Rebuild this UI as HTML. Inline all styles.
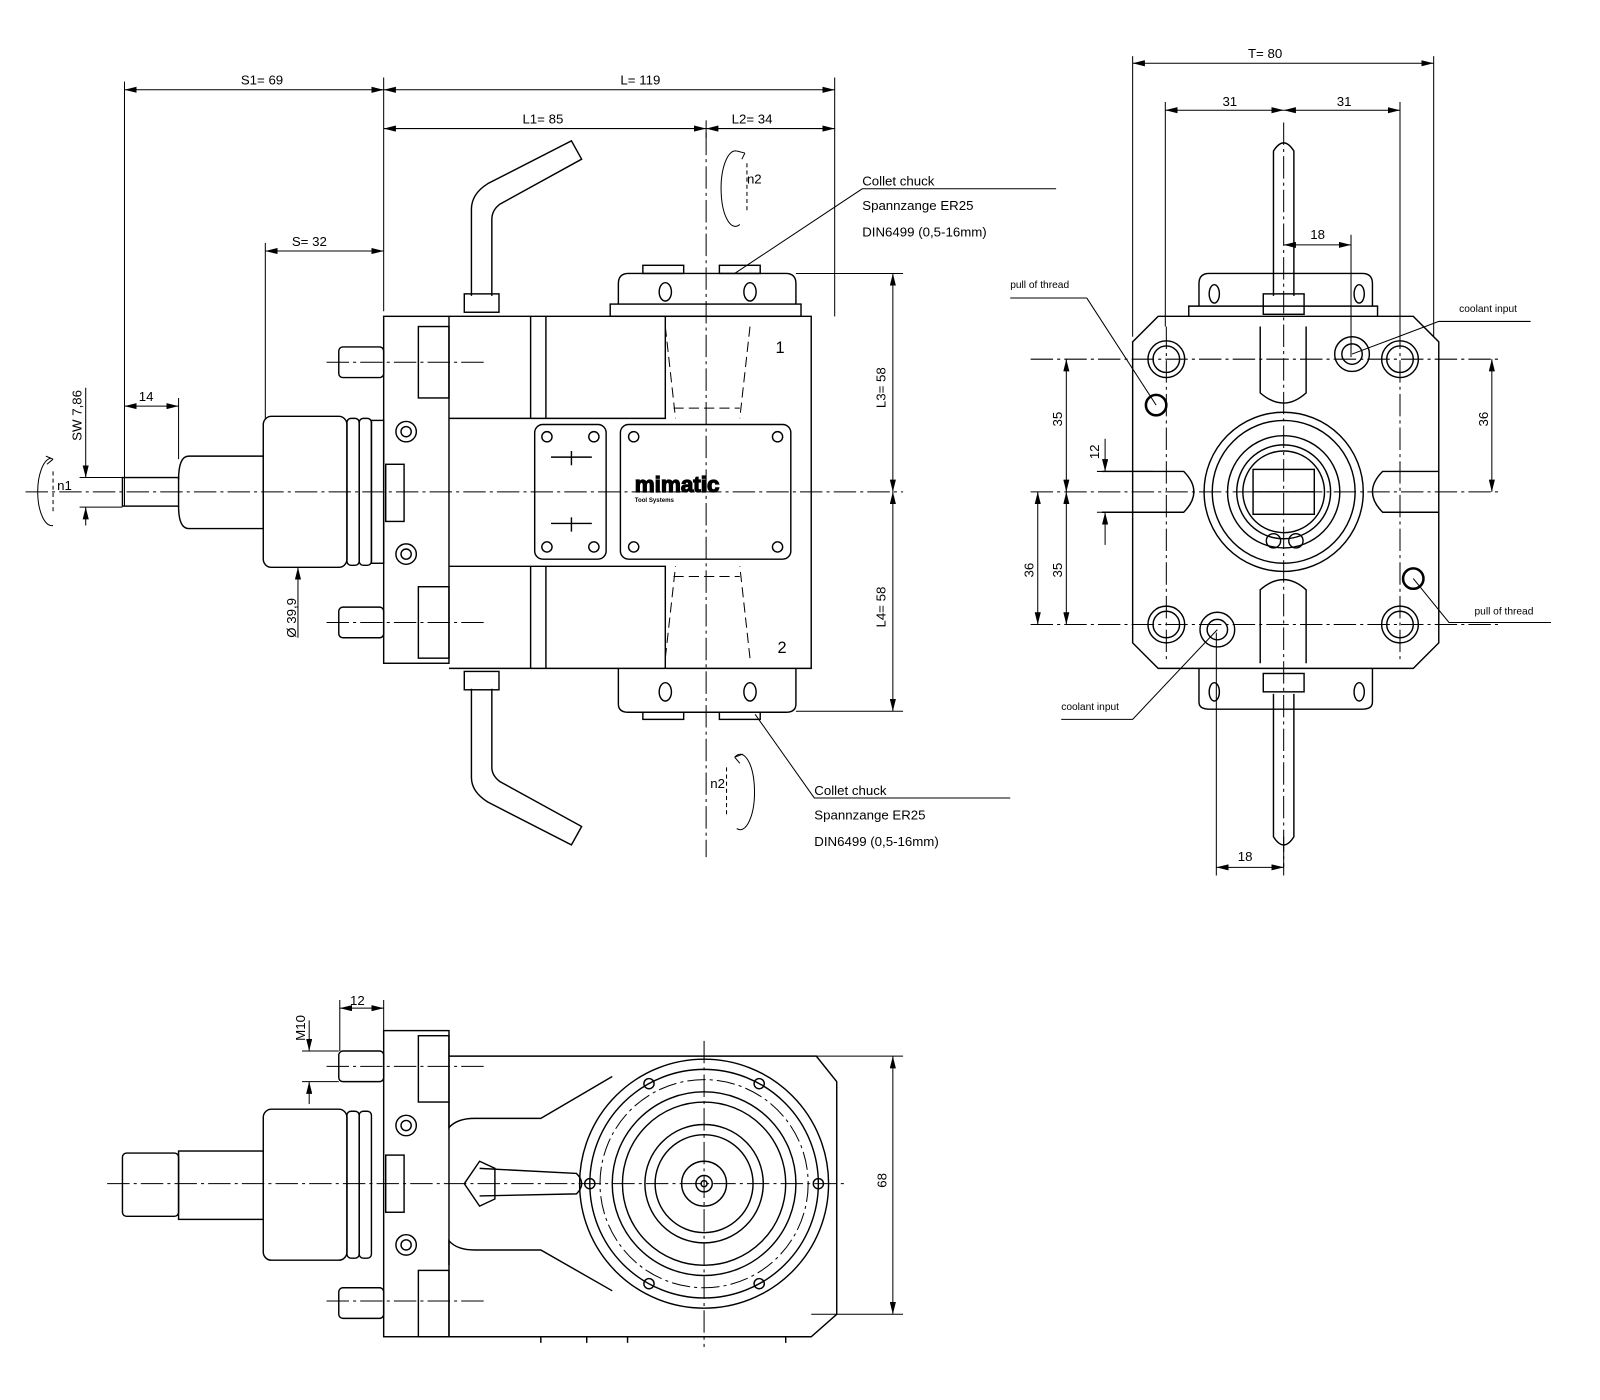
<!DOCTYPE html>
<html><head><meta charset="utf-8"><style>
html,body{margin:0;padding:0;background:#fff;}
svg{display:block;}
text{font-family:"Liberation Sans",sans-serif;font-size:13px;fill:#000;}
.s{font-size:10px;}
</style></head><body>
<svg width="1600" height="1400" viewBox="0 0 1568 1372" xmlns="http://www.w3.org/2000/svg">
<defs>
<marker id="a" viewBox="0 0 12 6" refX="12" refY="3" markerWidth="12" markerHeight="6" orient="auto-start-reverse" markerUnits="userSpaceOnUse"><path d="M0,0L12,3L0,6z" fill="#000"/></marker>
</defs>
<g fill="none" stroke="#000" stroke-width="1.4">
<g stroke-width="1" stroke-dasharray="22,4,3,4">
<line x1="25" y1="482" x2="885" y2="482"/>
<line x1="692" y1="130" x2="692" y2="840"/>
<line x1="320" y1="355" x2="475" y2="355"/>
<line x1="320" y1="610" x2="475" y2="610"/>
<line x1="1010" y1="482" x2="1470" y2="482"/>
<line x1="1258" y1="120" x2="1258" y2="850"/>
<line x1="1010" y1="352" x2="1470" y2="352"/>
<line x1="1010" y1="612" x2="1470" y2="612"/>
<line x1="1143" y1="320" x2="1143" y2="650"/>
<line x1="1372" y1="320" x2="1372" y2="650"/>
<line x1="105" y1="1160" x2="830" y2="1160"/>
<line x1="690" y1="1020" x2="690" y2="1320"/>
<line x1="320" y1="1045" x2="475" y2="1045"/>
<line x1="320" y1="1275" x2="475" y2="1275"/>
</g>
<rect x="120" y="468" width="55" height="28"/>
<path d="M175,470 Q175,447 185,447 L258,447 L258,518 L185,518 Q175,518 175,496"/>
<rect x="258" y="408" width="82" height="148" rx="8"/>
<rect x="340" y="410" width="12" height="144" rx="4"/>
<rect x="352" y="410" width="12" height="144" rx="4"/>
<rect x="364" y="412" width="12" height="140"/>
<rect x="378" y="455" width="18" height="56"/>
<rect x="376" y="310" width="64" height="340"/>
<rect x="410" y="320" width="30" height="70"/>
<rect x="410" y="575" width="30" height="70"/>
<rect x="332" y="340" width="44" height="30" rx="4"/>
<rect x="332" y="595" width="44" height="30" rx="4"/>
<circle cx="398" cy="423" r="10"/><circle cx="398" cy="423" r="5"/>
<circle cx="398" cy="543" r="10"/><circle cx="398" cy="543" r="5"/>
<path d="M440,310 L795,310 L795,655 L440,655"/>
<path d="M440,410 L652,410 L652,310"/>
<path d="M440,555 L652,555 L652,655"/>
<line x1="520" y1="310" x2="520" y2="410"/><line x1="535" y1="310" x2="535" y2="410"/>
<line x1="520" y1="555" x2="520" y2="655"/><line x1="535" y1="555" x2="535" y2="655"/>
<g stroke-dasharray="10,5" stroke-width="1">
<path d="M652,320 L662,410 M735,320 L725,410 M652,645 L662,555 M735,645 L725,555"/>
<path d="M660,400 L725,400 M660,565 L725,565"/>
</g>
<rect x="524" y="416" width="70" height="132" rx="8"/>
<rect x="608" y="416" width="167" height="132" rx="8"/>
<circle cx="536" cy="428" r="5"/><circle cx="582" cy="428" r="5"/><circle cx="536" cy="536" r="5"/><circle cx="582" cy="536" r="5"/>
<circle cx="621" cy="428" r="5"/><circle cx="762" cy="428" r="5"/><circle cx="621" cy="536" r="5"/><circle cx="762" cy="536" r="5"/>
<path d="M540,448 L580,448 M560,442 L560,456 M540,513 L580,513 M560,507 L560,521"/>
<rect x="598" y="298" width="187" height="12"/>
<path d="M606,298 L606,278 Q606,268 616,268 L770,268 Q780,268 780,278 L780,298"/>
<rect x="630" y="260" width="40" height="8"/><rect x="705" y="260" width="40" height="8"/>
<ellipse cx="652" cy="286" rx="6" ry="9"/><ellipse cx="735" cy="286" rx="6" ry="9"/>
<path d="M606,655 L606,690 Q606,698 616,698 L770,698 Q780,698 780,690 L780,655"/>
<rect x="630" y="698" width="40" height="7"/><rect x="705" y="698" width="40" height="7"/>
<ellipse cx="652" cy="678" rx="6" ry="9"/><ellipse cx="735" cy="678" rx="6" ry="9"/>
<path d="M462,290 L462,205 Q462,190 478,180 L560,138 L570,156 L490,200 Q482,206 482,215 L482,290"/>
<rect x="455" y="288" width="34" height="18"/>
<path d="M462,675 L462,762 Q462,776 478,786 L560,828 L570,810 L490,766 Q482,760 482,752 L482,675"/>
<rect x="455" y="658" width="34" height="18"/>
</g>
<text x="622" y="482" style="font-size:22px;font-weight:bold;" fill="#fff" stroke="#000" stroke-width="1.2">mimatic</text>
<text x="622" y="492" style="font-size:6px;font-weight:bold">Tool Systems</text>
<text x="760" y="346" style="font-size:16px">1</text>
<text x="762" y="640" style="font-size:16px">2</text>

<g fill="none" stroke="#000" stroke-width="1">
<line x1="122" y1="88" x2="376" y2="88" marker-start="url(#a)" marker-end="url(#a)"/>
<line x1="376" y1="88" x2="818" y2="88" marker-start="url(#a)" marker-end="url(#a)"/>
<line x1="376" y1="126" x2="692" y2="126" marker-start="url(#a)" marker-end="url(#a)"/>
<line x1="692" y1="126" x2="818" y2="126" marker-start="url(#a)" marker-end="url(#a)"/>
<line x1="260" y1="246" x2="376" y2="246" marker-start="url(#a)" marker-end="url(#a)"/>
<line x1="122" y1="398" x2="175" y2="398" marker-start="url(#a)" marker-end="url(#a)"/>
<path d="M122,80 L122,496 M376,76 L376,305 M818,76 L818,310 M692,118 L692,135 M260,238 L260,410 M175,390 L175,450"/>
<line x1="875" y1="268" x2="875" y2="482" marker-start="url(#a)" marker-end="url(#a)"/>
<line x1="875" y1="482" x2="875" y2="697" marker-start="url(#a)" marker-end="url(#a)"/>
<path d="M780,268 L885,268 M780,697 L885,697"/>
<line x1="84" y1="380" x2="84" y2="468" marker-end="url(#a)"/>
<line x1="84" y1="515" x2="84" y2="497" marker-end="url(#a)"/>
<path d="M78,468 L120,468 M78,497 L120,497"/>
<line x1="292" y1="625" x2="292" y2="556" marker-end="url(#a)"/>
<!-- rotation symbols -->
<path d="M50,449 A14,33 0 1,0 52,515"/>
<path d="M52,450 l-7,-3 M52,450 l-6,5"/>
<path d="M52,462 L52,502" stroke-dasharray="4,3"/>
<path d="M722,148 A14,37 0 1,0 725,220"/>
<path d="M722,148 l8,2 M730,150 l-3,6"/>
<path d="M732,160 L732,208" stroke-dasharray="4,3"/>
<path d="M720,742 A14,37 0 1,1 722,812"/>
<path d="M720,742 l8,-3 M720,742 l5,6"/>
<path d="M712,752 L712,800" stroke-dasharray="4,3"/>
<path d="M720,268 L845,185 L1035,185 M740,700 L798,782 L990,782"/>
<line x1="1110" y1="62" x2="1405" y2="62" marker-start="url(#a)" marker-end="url(#a)"/>
<line x1="1142" y1="108" x2="1258" y2="108" marker-start="url(#a)" marker-end="url(#a)"/>
<line x1="1258" y1="108" x2="1372" y2="108" marker-start="url(#a)" marker-end="url(#a)"/>
<path d="M1110,55 L1110,330 M1405,55 L1405,330 M1142,100 L1142,320 M1372,100 L1372,320 M1324,230 L1324,350"/>
<line x1="1258" y1="240" x2="1324" y2="240" marker-start="url(#a)" marker-end="url(#a)"/>
<line x1="1192" y1="850" x2="1258" y2="850" marker-start="url(#a)" marker-end="url(#a)"/>
<path d="M1192,620 L1192,858 M1258,820 L1258,858"/>
<line x1="1045" y1="352" x2="1045" y2="482" marker-start="url(#a)" marker-end="url(#a)"/>
<line x1="1045" y1="482" x2="1045" y2="612" marker-start="url(#a)" marker-end="url(#a)"/>
<line x1="1017" y1="482" x2="1017" y2="612" marker-start="url(#a)" marker-end="url(#a)"/>
<line x1="1462" y1="352" x2="1462" y2="482" marker-start="url(#a)" marker-end="url(#a)"/>
<line x1="1083" y1="430" x2="1083" y2="462" marker-end="url(#a)"/>
<line x1="1083" y1="534" x2="1083" y2="502" marker-end="url(#a)"/>
<path d="M1075,462 L1130,462 M1075,502 L1130,502"/>
<path d="M1065,292 L990,292 M1065,292 L1133,397 M1325,347 L1410,315 L1500,315 M1385,567 L1420,610 L1520,610 M1193,617 L1110,705 L1040,705"/>
</g>
<g fill="none" stroke="#000" stroke-width="1.4">
<path d="M1135,310 L1385,310 L1410,335 L1410,630 L1385,655 L1135,655 L1110,630 L1110,335 Z"/>
<path d="M1165,310 L1165,300 L1350,300 L1350,310"/>
<path d="M1175,300 L1175,278 Q1175,268 1185,268 L1335,268 Q1345,268 1345,278 L1345,300"/>
<ellipse cx="1190" cy="288" rx="5" ry="9"/><ellipse cx="1332" cy="288" rx="5" ry="9"/>
<path d="M1175,655 L1175,688 Q1175,695 1185,695 L1335,695 Q1345,695 1345,688 L1345,655"/>
<ellipse cx="1190" cy="678" rx="5" ry="9"/><ellipse cx="1332" cy="678" rx="5" ry="9"/>
<path d="M1248,290 L1248,148 Q1258,132 1268,148 L1268,290"/>
<path d="M1248,680 L1248,820 Q1258,836 1268,820 L1268,680"/>
<rect x="1238" y="288" width="40" height="20"/><rect x="1238" y="660" width="40" height="18"/>
<path d="M1235,320 L1235,385 Q1258,405 1280,385 L1280,320"/>
<path d="M1235,650 L1235,578 Q1258,558 1280,578 L1280,650"/>
<path d="M1080,462 L1160,462 Q1180,482 1160,502 L1080,502"/>
<path d="M1410,462 L1355,462 Q1335,482 1355,502 L1410,502"/>
<circle cx="1258" cy="482" r="78"/><circle cx="1258" cy="482" r="70"/>
<circle cx="1258" cy="482" r="55"/><circle cx="1258" cy="482" r="46"/><circle cx="1258" cy="482" r="40"/>
<rect x="1228" y="460" width="60" height="44"/>
<path d="M1228,482 L1288,482"/>
<circle cx="1248" cy="530" r="7"/><circle cx="1270" cy="530" r="7"/>
<circle cx="1143" cy="352" r="18"/><circle cx="1143" cy="352" r="13"/>
<circle cx="1372" cy="352" r="18"/><circle cx="1372" cy="352" r="13"/>
<circle cx="1143" cy="612" r="18"/><circle cx="1143" cy="612" r="13"/>
<circle cx="1372" cy="612" r="18"/><circle cx="1372" cy="612" r="13"/>
<circle cx="1325" cy="347" r="17"/><circle cx="1325" cy="347" r="10"/>
<circle cx="1193" cy="617" r="17"/><circle cx="1193" cy="617" r="10"/>
<circle cx="1133" cy="397" r="10" stroke-width="2.5"/>
<circle cx="1385" cy="567" r="10" stroke-width="2.5"/>
<rect x="120" y="1130" width="55" height="62" rx="4"/>
<rect x="175" y="1128" width="83" height="67"/>
<rect x="258" y="1087" width="82" height="148" rx="8"/>
<rect x="340" y="1089" width="12" height="144" rx="4"/><rect x="352" y="1089" width="12" height="144" rx="4"/>
<rect x="378" y="1132" width="18" height="56"/>
<rect x="376" y="1010" width="64" height="300"/>
<rect x="410" y="1015" width="30" height="65"/><rect x="410" y="1245" width="30" height="65"/>
<rect x="332" y="1030" width="44" height="30" rx="4"/><rect x="332" y="1262" width="44" height="30" rx="4"/>
<circle cx="398" cy="1103" r="10"/><circle cx="398" cy="1103" r="5"/>
<circle cx="398" cy="1220" r="10"/><circle cx="398" cy="1220" r="5"/>
<path d="M440,1035 L800,1035 L820,1060 L820,1288 L795,1310 L440,1310"/>
<path d="M440,1080 L440,1105 Q448,1096 465,1096 L530,1096 L600,1055"/>
<path d="M440,1240 L440,1216 Q448,1225 465,1225 L530,1225 L600,1265"/>
<circle cx="690" cy="1160" r="122"/><circle cx="690" cy="1160" r="112"/>
<circle cx="690" cy="1160" r="90"/><circle cx="690" cy="1160" r="80"/>
<circle cx="690" cy="1160" r="58"/><circle cx="690" cy="1160" r="48"/>
<circle cx="690" cy="1160" r="22"/><circle cx="690" cy="1160" r="8"/><circle cx="690" cy="1160" r="3"/>
<circle cx="690" cy="1160" r="102" stroke-width="1" stroke-dasharray="18,4,3,4"/>
<circle cx="578" cy="1160" r="5"/><circle cx="802" cy="1160" r="5"/>
<circle cx="636" cy="1062" r="5"/><circle cx="744" cy="1062" r="5"/>
<circle cx="636" cy="1258" r="5"/><circle cx="744" cy="1258" r="5"/>
<path d="M470,1145 L565,1150 Q575,1160 565,1170 L470,1172"/>
<path d="M455,1160 L470,1138 L485,1145 L485,1175 L470,1182 Z"/>
<path d="M530,1310 L530,1316 M575,1310 L575,1316 M615,1310 L615,1316 M770,1310 L770,1316"/>
</g>
<g fill="none" stroke="#000" stroke-width="1">
<line x1="875" y1="1035" x2="875" y2="1288" marker-start="url(#a)" marker-end="url(#a)"/>
<path d="M800,1035 L885,1035 M795,1288 L885,1288"/>
<line x1="333" y1="988" x2="376" y2="988" marker-start="url(#a)" marker-end="url(#a)"/>
<path d="M333,980 L333,1030 M376,980 L376,1010"/>
<line x1="303" y1="1000" x2="303" y2="1030" marker-end="url(#a)"/>
<line x1="303" y1="1082" x2="303" y2="1060" marker-end="url(#a)"/>
<path d="M296,1030 L332,1030 M296,1060 L332,1060"/>
</g>
<text x="236" y="83">S1=  69</text>
<text x="608" y="83">L=   119</text>
<text x="512" y="121">L1=    85</text>
<text x="717" y="121">L2=    34</text>
<text x="286" y="241">S=   32</text>
<text x="136" y="393">14</text>
<text x="732" y="180">n2</text>
<text x="696" y="772">n2</text>
<text x="56" y="480">n1</text>
<text transform="translate(80,432) rotate(-90)">SW 7,86</text>
<text transform="translate(290,625) rotate(-90)">Ø 39,9</text>
<text transform="translate(868,400) rotate(-90)">L3=   58</text>
<text transform="translate(868,615) rotate(-90)">L4=   58</text>
<text x="845" y="182">Collet chuck</text>
<text x="845" y="206">Spannzange ER25</text>
<text x="845" y="232">DIN6499 (0,5-16mm)</text>
<text x="798" y="779">Collet chuck</text>
<text x="798" y="803">Spannzange ER25</text>
<text x="798" y="829">DIN6499 (0,5-16mm)</text>
<text x="1223" y="57">T=  80</text>
<text x="1198" y="104">31</text>
<text x="1310" y="104">31</text>
<text x="1284" y="234">18</text>
<text x="1213" y="844">18</text>
<text transform="translate(1041,418) rotate(-90)">35</text>
<text transform="translate(1041,566) rotate(-90)">35</text>
<text transform="translate(1013,566) rotate(-90)">36</text>
<text transform="translate(1458,418) rotate(-90)">36</text>
<text transform="translate(1077,450) rotate(-90)">12</text>
<text class="s" x="990" y="282">pull of thread</text>
<text class="s" x="1430" y="306">coolant input</text>
<text class="s" x="1445" y="602">pull of thread</text>
<text class="s" x="1040" y="696">coolant input</text>
<text x="343" y="985">12</text>
<text transform="translate(299,1020) rotate(-90)">M10</text>
<text transform="translate(869,1164) rotate(-90)">68</text>
</svg>
</body></html>
